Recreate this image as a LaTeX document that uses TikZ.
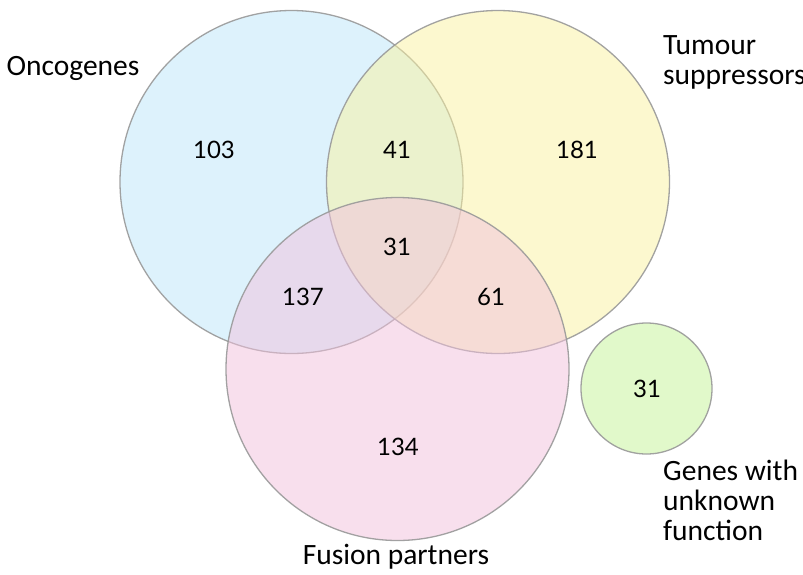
\documentclass[tikz,border=0pt]{standalone}
\usepackage{fontspec}
\setmainfont{Carlito}
\newfontfamily\numfont{Lato}
\begin{document}
\begin{tikzpicture}[x=1pt,y=-1pt,
  setcircle/.style={circle, draw=black!40, line width=1.3pt, draw opacity=0.9, fill opacity=0.5, text opacity=1, inner sep=0pt},
  lbl/.style={font=\fontsize{29.5}{30}\selectfont, inner sep=0pt},
  num/.style={font=\numfont\fontsize{24}{28}\selectfont, inner sep=0pt}]
\useasboundingbox (0,0) rectangle (803,574);
\fill[white] (0,0) rectangle (803,574);
\node[setcircle, fill={rgb,255:red,189;green,230;blue,250}, minimum size=343pt] (onc) at (291.5,182) {};
\node[setcircle, fill={rgb,255:red,250;green,242;blue,160}, minimum size=343pt] (tsg) at (498,182) {};
\node[setcircle, fill={rgb,255:red,242;green,193;blue,221}, minimum size=343pt] (fus) at (397.5,369) {};
\node[setcircle, fill={rgb,255:red,196;green,245;blue,150}, minimum size=131pt] (unk) at (646.5,388.5) {};
\node[num] (n103) at (214,150) {103};
\node[num] (n41) at (397,150) {41};
\node[num] (n181) at (577,150) {181};
\node[num] (n31a) at (397,247) {31};
\node[num] (n137) at (303,297) {137};
\node[num] (n61) at (491,297) {61};
\node[num] (n134) at (398,447) {134};
\node[num] (n31b) at (647,389) {31};
\node[lbl] (lonc) at (73,68) {Oncogenes};
\node[lbl, anchor=west, align=left] (ltsg) at (663,62) {Tumour\\suppressors};
\node[lbl] (lfus) at (396,557) {Fusion partners};
\node[lbl, anchor=west, align=left] (lunk) at (663,500) {Genes with\\unknown\\function};
\end{tikzpicture}
\end{document}
